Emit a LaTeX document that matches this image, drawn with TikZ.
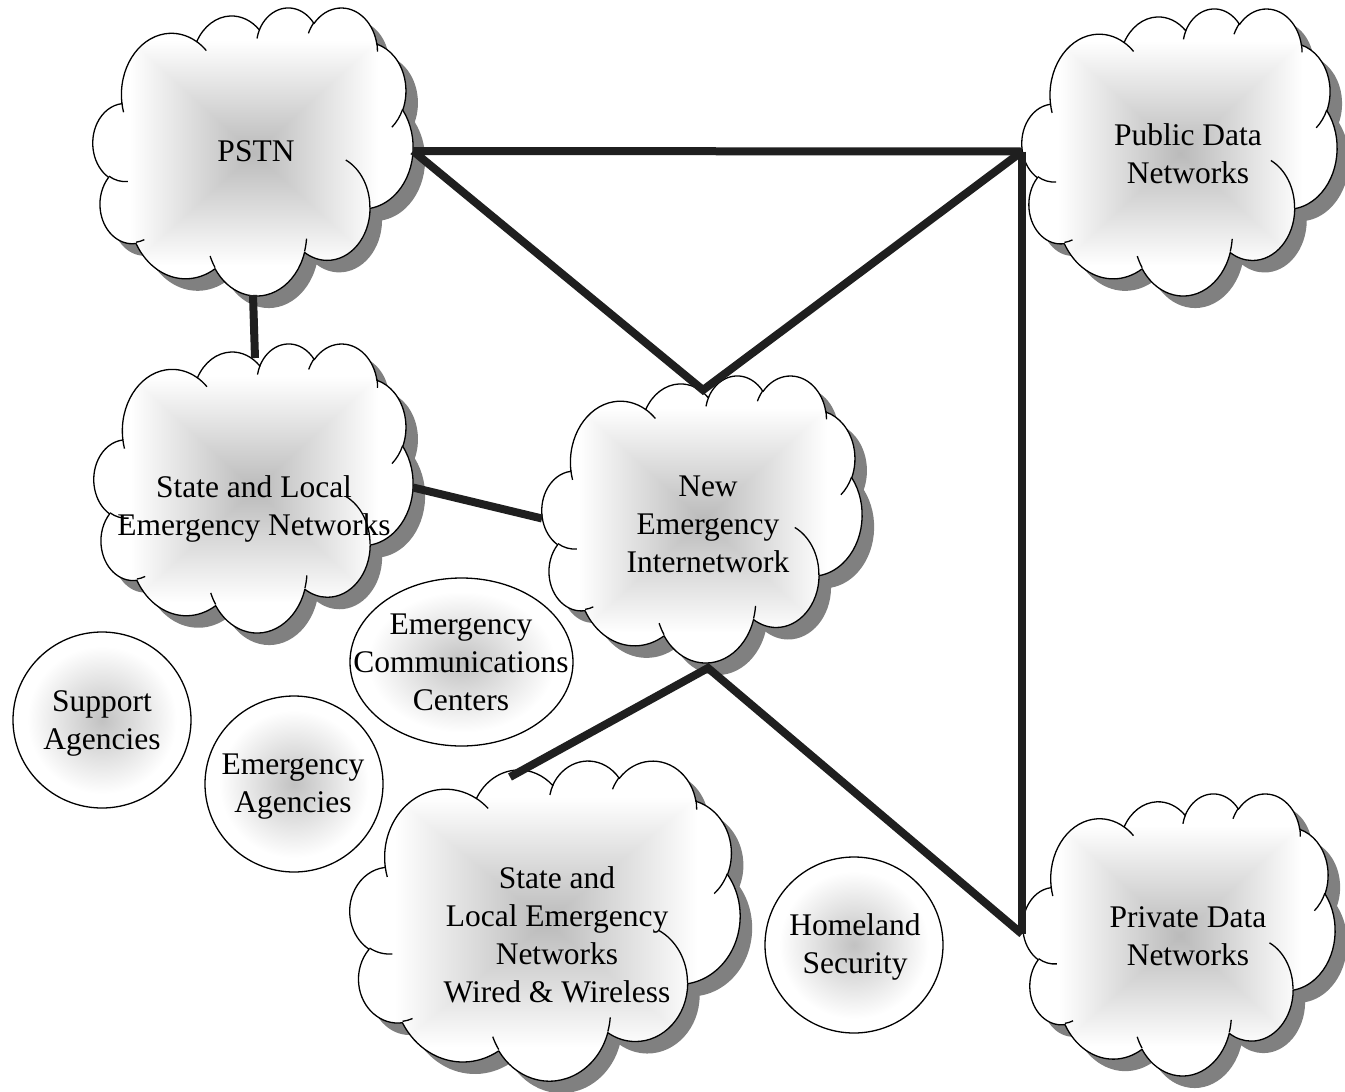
\documentclass[tikz,border=0pt]{standalone}
\usepackage{fontspec}
\setmainfont{Liberation Serif}
\usetikzlibrary{shapes.geometric,calc}

\definecolor{cshadow}{gray}{0.5}
\definecolor{cmid}{gray}{0.76}
\definecolor{cline}{gray}{0.12}

% DrawingML arcTo (visual angles, 60000ths of a degree) -> TikZ elliptical arc
\newcommand\mkarc[5]{%
  \edef\tmpst{\fpeval{(#4)/60000}}%
  \edef\tmpen{\fpeval{(#4+#5)/60000}}%
  \edef\tmpts{\fpeval{atand(#2*sind(\tmpst), #3*cosd(\tmpst))}}%
  \edef\tmpte{\fpeval{atand(#2*sind(\tmpen), #3*cosd(\tmpen))}}%
  \edef\tmpd{\fpeval{\tmpte-\tmpts}}%
  \edef\tmpd{\fpeval{\tmpd-360*floor(\tmpd/360)}}%
  \expandafter\xdef\csname arc#1\endcsname{arc[start angle=\fpeval{round(\tmpts,4)}, delta angle=\fpeval{round(\tmpd,4)}, x radius=\fpeval{#2/1000}pt, y radius=\fpeval{#3/1000}pt]}%
}
\mkarc{O1}{6753}{9190}{-11429249}{7426832}
\mkarc{O2}{5333}{7267}{-8646143}{5396714}
\mkarc{O3}{4365}{5945}{-8748475}{5983381}
\mkarc{O4}{4857}{6595}{-7859164}{7034504}
\mkarc{O5}{5333}{7273}{-4722533}{6541615}
\mkarc{O6}{6775}{9220}{-2776035}{7816140}
\mkarc{O7}{5785}{7867}{37501}{6842000}
\mkarc{O8}{6752}{9215}{1347096}{6910353}
\mkarc{O9}{7720}{10543}{3974558}{4542661}
\mkarc{O10}{4360}{5918}{-16496525}{8804134}
\mkarc{O11}{4345}{5945}{-14809710}{9151131}
\mkarc{I1}{4345}{5945}{5204520}{1585770}
\mkarc{I2}{4360}{5918}{4416628}{686848}
\mkarc{I3}{6752}{9215}{8257449}{844866}
\mkarc{I4}{6752}{9215}{387196}{959901}
\mkarc{I5}{5785}{7867}{-4217541}{4255042}
\mkarc{I6}{5333}{7273}{1819082}{1665090}
\mkarc{I7}{4857}{6595}{-824660}{891534}
\mkarc{I8}{4857}{6595}{-8950887}{1091722}
\mkarc{I9}{4365}{5945}{-9809656}{1061181}
\mkarc{I10}{6753}{9190}{-4002417}{739161}
\mkarc{I11}{6753}{9190}{9459261}{711490}

\xdef\cloudouter{(3.9,14.37) \csname arcO1\endcsname \csname arcO2\endcsname
  \csname arcO3\endcsname \csname arcO4\endcsname \csname arcO5\endcsname
  \csname arcO6\endcsname \csname arcO7\endcsname \csname arcO8\endcsname
  \csname arcO9\endcsname \csname arcO10\endcsname \csname arcO11\endcsname -- cycle}
\xdef\cloudinner{(4.693,26.177) \csname arcI1\endcsname
  (6.928,34.899) \csname arcI2\endcsname
  (16.478,39.090) \csname arcI3\endcsname
  (28.827,34.751) \csname arcI4\endcsname
  (34.129,22.954) \csname arcI5\endcsname
  (41.798,15.354) \csname arcI6\endcsname
  (38.324,5.426) \csname arcI7\endcsname
  (29.078,3.952) \csname arcI8\endcsname
  (22.141,4.720) \csname arcI9\endcsname
  (14.000,5.192) \csname arcI10\endcsname
  (4.127,15.789) \csname arcI11\endcsname}

% the path's box is fitted to the central 50bp square of a shading
\pgfdeclarefunctionalshading{cloudshade}{\pgfpoint{-50bp}{-50bp}}{\pgfpoint{50bp}{50bp}}{}{abs exch abs 2 copy lt {exch} if pop 25 div 0.36 mul 0.73 add dup 1 gt {pop 1} if dup dup}
\pgfdeclareradialshading{circshade}{\pgfpoint{0bp}{0bp}}{color(0bp)=(cmid); color(21bp)=(white); color(50bp)=(white)}

\tikzset{
  cloudline/.style={draw=black, line width=1.3pt, line join=round},
  anchorbox/.style={rectangle, draw=none, inner sep=0pt, outer sep=0pt},
  lbl/.style={font={\fontsize{31.5}{38}\selectfont}, align=center, inner sep=0pt, anchor=north},
  bubble/.style={ellipse, draw=black, line width=1.3pt, shading=circshade, inner sep=0pt},
  conn/.style={draw=cline, line width=8pt, line cap=butt, line join=miter},
}

% #1 name, #2 left, #3 top, #4 width, #5 height (pixel coordinates, y downwards)
\newcommand\cloudshape[5]{%
  \begin{scope}[shift={(#2+12,-#3-12)}, xscale=#4/43.2, yscale=-#5/43.2]
    \fill[cshadow] \cloudouter;
  \end{scope}
  \begin{scope}[shift={(#2,-#3)}, xscale=#4/43.2, yscale=-#5/43.2]
    \shade[shading=cloudshade] \cloudouter;
    \draw[cloudline] \cloudouter;
    \draw[cloudline] \cloudinner;
  \end{scope}
  \node[anchorbox, minimum width=#4pt, minimum height=#5pt] (#1) at (#2+#4/2,-#3-#5/2) {};
}

\begin{document}
\begin{tikzpicture}[x=1pt,y=1pt]
\path[use as bounding box, fill=white] (0,0) rectangle (1345,-1092);

% clouds
\cloudshape{pstn}{93}{7}{320}{288}
\cloudshape{public}{1022}{8}{315}{287}
\cloudshape{state}{94}{343}{319}{289}
\cloudshape{newem}{542}{375}{320}{287}
\cloudshape{wired}{350}{760}{390}{320}
\cloudshape{private}{1023}{793}{312}{282}

% round shapes
\node[bubble, minimum width=223pt, minimum height=168pt] (ecc) at (461.5,-662) {};
\node[bubble, minimum width=178pt, minimum height=176pt] (support) at (102,-720) {};
\node[bubble, minimum width=178pt, minimum height=176pt] (agencies) at (294,-784) {};
\node[bubble, minimum width=178pt, minimum height=176pt] (homeland) at (854,-945) {};

% labels
\node[lbl] (pstn-t) at (256,-140.5) {PSTN};
\node[lbl] (public-t) at (1188,-123.5) {Public Data\\Networks};
\node[lbl] (state-t) at (254,-475.5) {State and Local\\Emergency Networks};
\node[lbl] (newem-t) at (708,-475.5) {New\\Emergency\\Internetwork};
\node[lbl] (ecc-t) at (461,-613.5) {Emergency\\Communications\\Centers};
\node[lbl] (support-t) at (102,-690.5) {Support\\Agencies};
\node[lbl] (agencies-t) at (293,-753.5) {Emergency\\Agencies};
\node[lbl] (wired-t) at (557,-866.5) {State and\\Local Emergency\\Networks\\Wired \& Wireless};
\node[lbl] (homeland-t) at (855,-913.5) {Homeland\\Security};
\node[lbl] (private-t) at (1188,-906.5) {Private Data\\Networks};

% connectors
\coordinate (newtop) at ($(newem.north)+(1,-15)$);
\coordinate (newbot) at ($(newem.south)+(6,-6)$);
\coordinate (wiredin) at ($(wired.north west)+(160,-17)$);
\coordinate (statein) at ($(state.north)+(1.5,-15)$);
\draw[conn] (pstn.east) -- (public.west);
\draw[conn] (pstn.east) -- (newtop) -- (public.west);
\draw[conn] (public.west) -- (public.west |- private.west);
\draw[conn] (public.west |- private.west) -- (newbot) -- (wiredin);
\draw[conn] (pstn.south) -- (statein);
\draw[conn] (state.east) -- (newem.west);
\end{tikzpicture}
\end{document}
